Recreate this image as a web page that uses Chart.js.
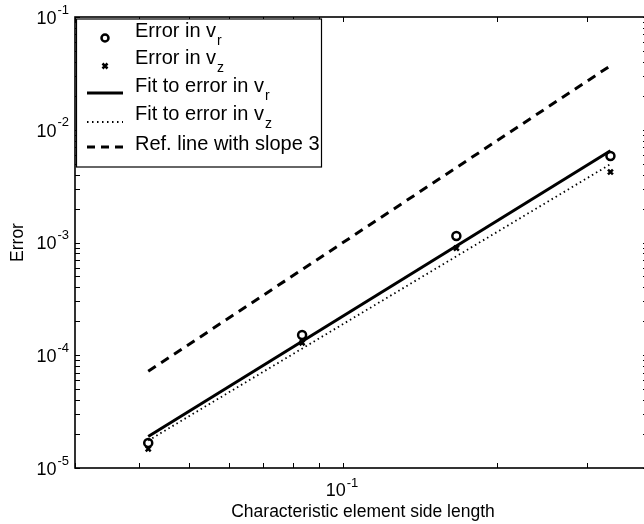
<!DOCTYPE html>
<html>
<head>
<meta charset="utf-8">
<script src="https://cdn.jsdelivr.net/npm/chart.js@4/dist/chart.umd.min.js"></script>
<style>
  html, body { margin: 0; padding: 0; overflow: hidden; background: #fff; }
  #wrap { width: 660px; height: 524px; }
</style>
</head>
<body>
<div id="wrap"><canvas id="errChart" width="660" height="524"></canvas></div>
<script>
// element side lengths (x) and measured errors
const sideLength = [0.0417, 0.0833, 0.1667, 0.3333];
const errorVr = [1.67e-5, 1.51e-4, 1.14e-3, 5.85e-3];
const errorVz = [1.48e-5, 1.29e-4, 8.9e-4, 4.22e-3];

// straight lines, end points only
const lineX = [0.0417, 0.3333];
const fitVr = [1.9e-5, 6.5e-3];
const fitVz = [1.75e-5, 4.95e-3];
const refSlope3 = [7.2e-5, 3.7e-2];

// axis ticks
const yMajor = [1e-5, 1e-4, 1e-3, 1e-2, 1e-1];
const yMajorExp = ['-5', '-4', '-3', '-2', '-1'];
const xMajor = [0.1];
const xMajorExp = ['-1'];
const xMinor = [0.03, 0.04, 0.05, 0.06, 0.07, 0.08, 0.09, 0.2, 0.3];

const legendItems = [
  { text: 'Error in v', sub: 'r', kind: 'circle' },
  { text: 'Error in v', sub: 'z', kind: 'cross' },
  { text: 'Fit to error in v', sub: 'r', kind: 'solid' },
  { text: 'Fit to error in v', sub: 'z', kind: 'dotted' },
  { text: 'Ref. line with slope 3', sub: '', kind: 'dashed' }
];

const FONT = '"Liberation Sans", Arial, Helvetica, sans-serif';

function pts(xs, ys) {
  return xs.map((x, i) => ({ x: x, y: ys[i] }));
}

// frame, inward ticks, tick labels, axis titles
const axesPlugin = {
  id: 'axesPlugin',
  beforeDatasetsDraw(chart) {
    const ctx = chart.ctx;
    const a = chart.chartArea;
    const xs = chart.scales.x, ys = chart.scales.y;
    const tl = 5;
    ctx.save();
    ctx.strokeStyle = '#000';
    ctx.lineWidth = 1;
    ctx.beginPath();
    // y ticks, left and right
    const yVals = [];
    yMajor.forEach((v, i) => {
      yVals.push(v);
      if (i < yMajor.length - 1) for (let k = 2; k <= 9; k++) yVals.push(v * k);
    });
    yVals.forEach(v => {
      const p = Math.round(ys.getPixelForValue(v)) + 0.5;
      ctx.moveTo(a.left, p); ctx.lineTo(a.left + tl, p);
      ctx.moveTo(a.right, p); ctx.lineTo(a.right - tl - 3, p);
    });
    xMajor.concat(xMinor).forEach(v => {
      const p = Math.round(xs.getPixelForValue(v)) + 0.5;
      ctx.moveTo(p, a.bottom); ctx.lineTo(p, a.bottom - tl);
      ctx.moveTo(p, a.top); ctx.lineTo(p, a.top + tl);
    });
    ctx.stroke();
    ctx.lineWidth = 1.6;
    ctx.strokeRect(a.left, a.top, a.right - a.left, a.bottom - a.top);

    ctx.fillStyle = '#000';
    ctx.textBaseline = 'middle';
    // y tick labels
    yMajor.forEach((v, i) => {
      const p = ys.getPixelForValue(v);
      ctx.font = '13px ' + FONT;
      const ew = ctx.measureText(yMajorExp[i]).width;
      ctx.textAlign = 'right';
      ctx.fillText(yMajorExp[i], a.left - 6, p - 7);
      ctx.font = '18px ' + FONT;
      ctx.fillText('10', a.left - 7 - ew, p + 2);
    });
    // x tick labels
    xMajor.forEach((v, i) => {
      const p = xs.getPixelForValue(v);
      ctx.font = '18px ' + FONT;
      ctx.textAlign = 'right';
      ctx.fillText('10', p + 3, a.bottom + 23);
      ctx.font = '13px ' + FONT;
      ctx.textAlign = 'left';
      ctx.fillText(xMajorExp[i], p + 4, a.bottom + 15);
    });
    // axis titles
    ctx.font = '17.5px ' + FONT;
    ctx.textAlign = 'center';
    ctx.fillText('Characteristic element side length', (a.left + a.right) / 2, a.bottom + 44);
    ctx.save();
    ctx.translate(18, (a.top + a.bottom) / 2);
    ctx.rotate(-Math.PI / 2);
    ctx.fillText('Error', 0, 0);
    ctx.restore();
    ctx.restore();
  },
  afterDatasetsDraw(chart) {
    const ctx = chart.ctx;
    const a = chart.chartArea;
    ctx.save();
    const bx = a.left + 1.5, by = a.top + 2, bw = 245, bh = 148;
    ctx.fillStyle = '#fff';
    ctx.fillRect(bx, by, bw, bh);
    ctx.strokeStyle = '#000';
    ctx.lineWidth = 1.2;
    ctx.strokeRect(bx, by, bw, bh);
    const baselines = [37, 64, 92, 120, 150];
    const symY = [38, 66, 93, 122, 147];
    legendItems.forEach((it, i) => {
      const yb = baselines[i];
      const sy = symY[i];
      ctx.fillStyle = '#000';
      ctx.textBaseline = 'alphabetic';
      ctx.textAlign = 'left';
      ctx.font = '20px ' + FONT;
      ctx.fillText(it.text, 135, yb);
      if (it.sub) {
        const w = ctx.measureText(it.text).width;
        ctx.font = '14px ' + FONT;
        ctx.fillText(it.sub, 135 + w + 1, yb + 8);
      }
      ctx.strokeStyle = '#000';
      ctx.setLineDash([]);
      if (it.kind === 'circle') {
        ctx.lineWidth = 2.5;
        ctx.beginPath();
        ctx.arc(105, sy, 3.5, 0, Math.PI * 2);
        ctx.stroke();
      } else if (it.kind === 'cross') {
        ctx.lineWidth = 2.5;
        ctx.beginPath();
        ctx.moveTo(102.5, sy - 2.5); ctx.lineTo(107.5, sy + 2.5);
        ctx.moveTo(107.5, sy - 2.5); ctx.lineTo(102.5, sy + 2.5);
        ctx.stroke();
      } else {
        if (it.kind === 'solid') { ctx.lineWidth = 3; }
        if (it.kind === 'dotted') { ctx.lineWidth = 1.8; ctx.setLineDash([1.5, 3.5]); }
        if (it.kind === 'dashed') { ctx.lineWidth = 3; ctx.setLineDash([8, 6]); }
        ctx.beginPath();
        ctx.moveTo(87, sy); ctx.lineTo(123, sy);
        ctx.stroke();
      }
    });
    ctx.restore();
  }
};

new Chart(document.getElementById('errChart').getContext('2d'), {
  type: 'scatter',
  data: {
    datasets: [
      {
        label: 'Ref. line with slope 3',
        data: pts(lineX, refSlope3),
        showLine: true, borderColor: '#000', borderWidth: 3,
        borderDash: [9, 6.5], pointRadius: 0
      },
      {
        label: 'Fit to error in vz',
        data: pts(lineX, fitVz),
        showLine: true, borderColor: '#000', borderWidth: 1.8,
        borderDash: [1.5, 3.2], pointRadius: 0
      },
      {
        label: 'Fit to error in vr',
        data: pts(lineX, fitVr),
        showLine: true, borderColor: '#000', borderWidth: 3, pointRadius: 0
      },
      {
        label: 'Error in vz',
        data: pts(sideLength, errorVz),
        pointStyle: 'crossRot', pointRadius: 3.5, borderWidth: 2.5,
        borderColor: '#000', backgroundColor: '#000'
      },
      {
        label: 'Error in vr',
        data: pts(sideLength, errorVr),
        pointStyle: 'circle', pointRadius: 4, borderWidth: 2.5,
        borderColor: '#000', backgroundColor: '#fff'
      }
    ]
  },
  options: {
    responsive: false,
    animation: false,
    layout: { padding: { left: 75, top: 17, right: 9, bottom: 56 } },
    plugins: { legend: { display: false }, tooltip: { enabled: false } },
    scales: {
      x: { type: 'logarithmic', min: 0.03, max: 0.4, display: false },
      y: { type: 'logarithmic', min: 1e-5, max: 1e-1, display: false }
    }
  },
  plugins: [axesPlugin]
});
</script>
</body>
</html>
